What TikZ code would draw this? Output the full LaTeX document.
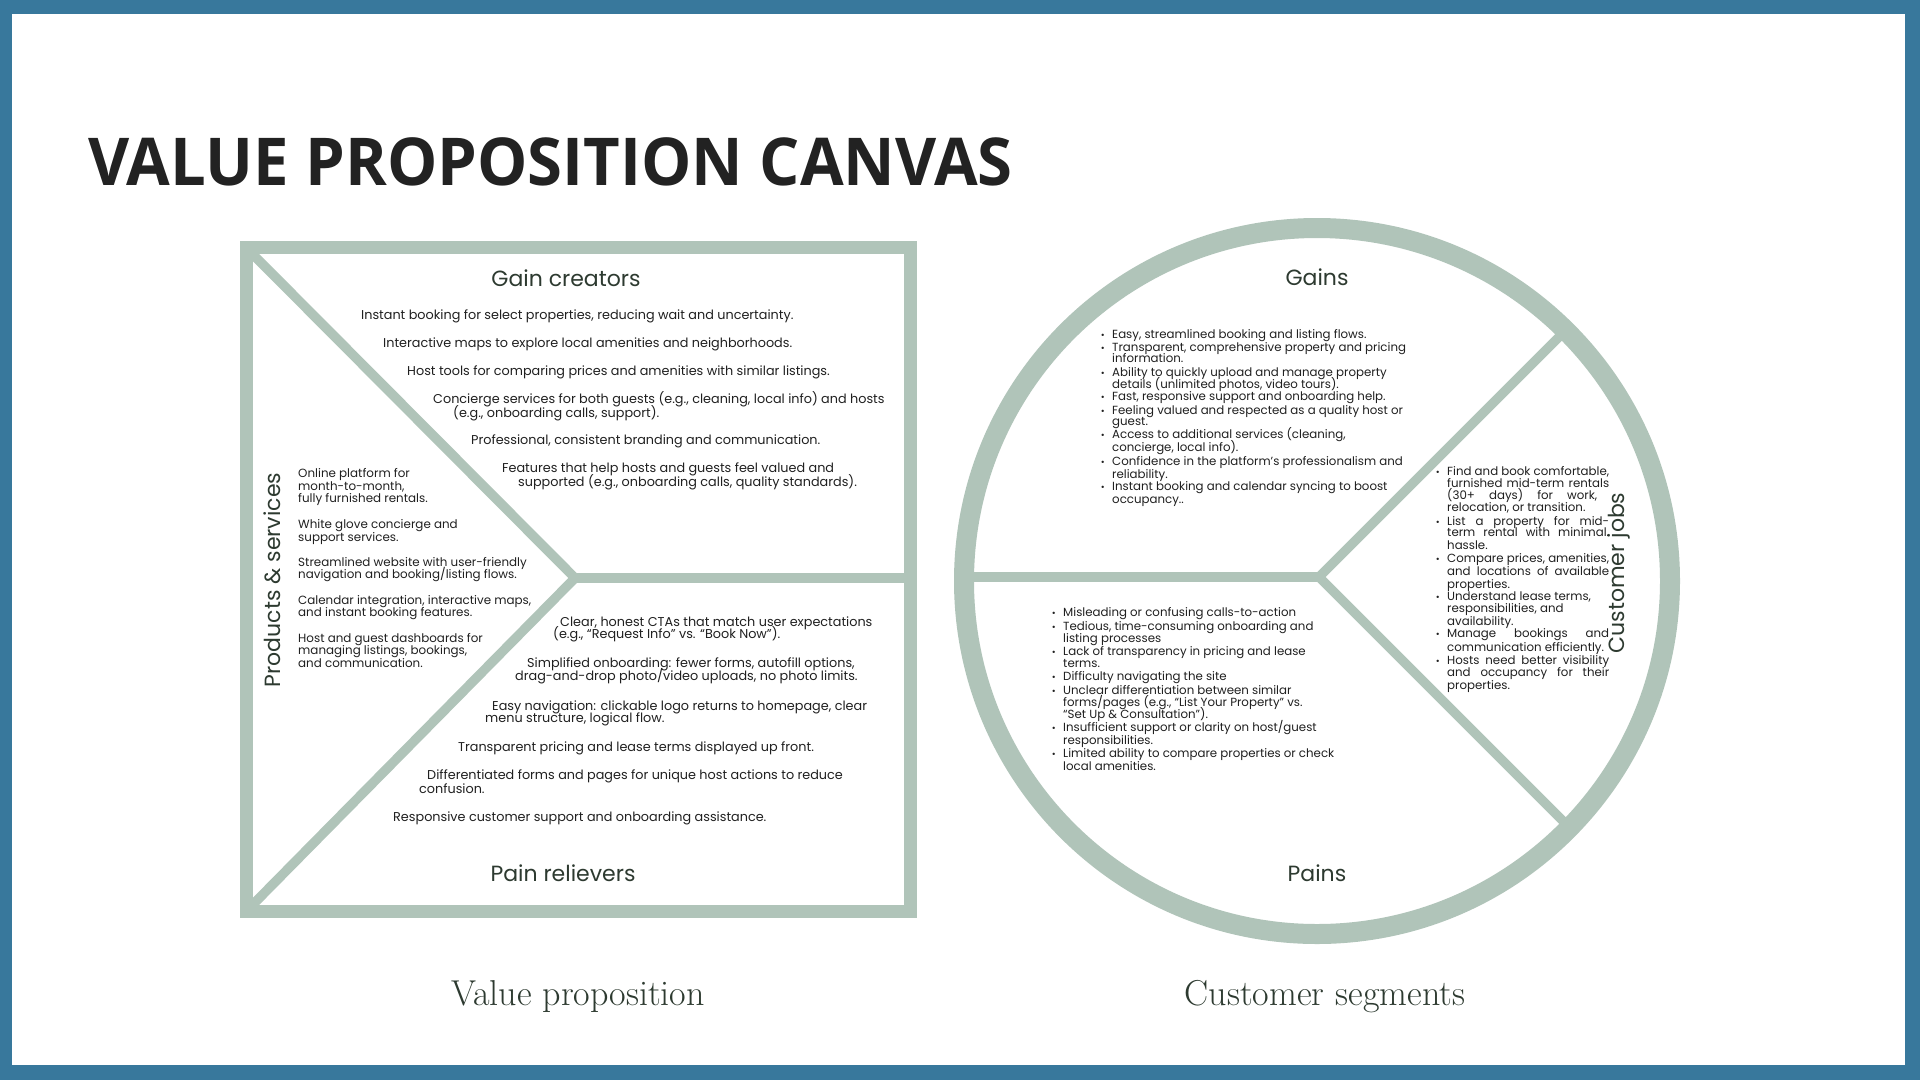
\documentclass[tikz,border=0pt]{standalone}
\usepackage{fontspec}
\usepackage{graphicx}
\newfontfamily\pop{Poppins}
\newfontfamily\titlefont{Open Sans}
\definecolor{frameblue}{RGB}{56,120,156}
\definecolor{sage}{RGB}{176,196,185}
\definecolor{hdrtext}{RGB}{45,58,48}
\definecolor{bodytext}{RGB}{32,32,32}
\definecolor{titlec}{RGB}{34,34,34}
\newcommand{\vpbul}{\llap{\scalebox{0.8}{•}\hspace{7.5pt}}}
\tikzset{
  vpbody/.style={font=\pop\fontsize{12.8}{14}\selectfont, text=bodytext, inner sep=0pt, anchor=mid west, yshift=-2.5pt},
  psbody/.style={font=\pop\fontsize{11.9}{13}\selectfont, text=bodytext, inner sep=0pt, anchor=mid west, yshift=-2.5pt},
  csbody/.style={font=\pop\fontsize{11.8}{13}\selectfont, text=bodytext, inner sep=0pt, anchor=mid west, yshift=-1.5pt},
  hdr/.style={font=\pop\fontsize{22}{25}\selectfont, text=hdrtext, inner sep=0pt, anchor=center},
  sageline/.style={draw=sage, line width=9.5pt, line join=miter},
  sageframe/.style={draw=sage, line width=13pt},
  sagering/.style={draw=sage, line width=20pt},
  footlbl/.style={font=\fontsize{36}{40}\selectfont, text=hdrtext, inner sep=0pt, anchor=base}
}
\begin{document}
\begin{tikzpicture}[x=1pt,y=-1pt]
\useasboundingbox (0,0) rectangle (1920,1080);
\fill[frameblue] (0,0) rectangle (1920,1080);
\fill[white] (12,14) rectangle (1905,1065);

% title
\node[anchor=base west, inner sep=0pt, text=titlec, font=\titlefont\bfseries\fontsize{66}{70}\selectfont] (title) at (88,185) {\scalebox{0.96}[1]{VALUE PROPOSITION CANVAS}};

% ---------- value proposition square ----------
\coordinate (vtl) at (246,247.5);
\coordinate (vbl) at (246,911.5);
\coordinate (vbr) at (910,911.5);
\coordinate (vhub) at (575,578);
\coordinate (vr) at (910,578);
\draw[sageline] (vtl) -- (vhub) -- (vbl);
\draw[sageline] (vhub) -- (vr);
\draw[sageframe] (vtl) rectangle (vbr);

\node[hdr] (gaincr) at (566,278) {Gain creators};
\node[hdr] (painrel) at (563,873) {Pain relievers};
\node[hdr, rotate=90] (prodserv) at (272,580) {Products \& services};

\foreach \x/\y/\t [count=\i] in {
 361/315/{Instant booking for select properties, reducing wait and uncertainty.},
 383/343/{Interactive maps to explore local amenities and neighborhoods.},
 407/371/{Host tools for comparing prices and amenities with similar listings.},
 433/399/{Concierge services for both guests (e.g., cleaning, local info) and hosts},
 453/413/{(e.g., onboarding calls, support).},
 471/440/{Professional, consistent branding and communication.},
 502/468/{Features that help hosts and guests feel valued and},
 518/482/{supported (e.g., onboarding calls, quality standards).}}
 \node[vpbody] (gc\i) at (\x,\y) {\t};

\foreach \y/\t [count=\i] in {
 473/{Online platform for},
 486/{month-to-month,},
 498/{fully furnished rentals.},
 524/{White glove concierge and},
 537/{support services.},
 562/{Streamlined website with user-friendly},
 574/{navigation and booking/listing flows.},
 600/{Calendar integration, interactive maps,},
 612/{and instant booking features.},
 638/{Host and guest dashboards for},
 650/{managing listings, bookings,},
 663/{and communication.}}
 \node[psbody] (ps\i) at (298,\y) {\t};

\foreach \x/\y/\t [count=\i] in {
 560/622/{Clear, honest CTAs that match user expectations},
 553/634/{(e.g., “Request Info” vs. “Book Now”).},
 527/663/{Simplified onboarding: fewer forms, autofill options,},
 515/676/{drag-and-drop photo/video uploads, no photo limits.},
 492/706/{Easy navigation: clickable logo returns to homepage, clear},
 485/718/{menu structure, logical flow.},
 458/747/{Transparent pricing and lease terms displayed up front.},
 427/775/{Differentiated forms and pages for unique host actions to reduce},
 419/789/{confusion.},
 393/817/{Responsive customer support and onboarding assistance.}}
 \node[vpbody] (pr\i) at (\x,\y) {\t};

% ---------- customer segment circle ----------
\coordinate (cc) at (1317,581);
\coordinate (chub) at (1319,577);
\coordinate (cleft) at (964,577);
\coordinate (cur) at (1567,329);
\coordinate (clr) at (1567,825);
\draw[sageline] (cur) -- (chub) -- (clr);
\draw[sageline] (chub) -- (cleft);
\draw[sagering] (cc) circle[radius=353pt];

\node[hdr] (gains) at (1317,277) {Gains};
\node[hdr] (pains) at (1317,873) {Pains};
\node[hdr, rotate=90] (custjobs) at (1619,573) {Customer jobs};

\foreach \y/\b/\t [count=\i] in {
 335/1/{Easy, streamlined booking and listing flows.},
 348/1/{Transparent, comprehensive property and pricing},
 359/0/{information.},
 373/1/{Ability to quickly upload and manage property},
 385/0/{details (unlimited photos, video tours).},
 397/1/{Fast, responsive support and onboarding help.},
 411/1/{Feeling valued and respected as a quality host or},
 422/0/{guest.},
 435/1/{Access to additional services (cleaning,},
 448/0/{concierge, local info).},
 462/1/{Confidence in the platform’s professionalism and},
 475/0/{reliability.},
 487/1/{Instant booking and calendar syncing to boost},
 500/0/{occupancy..}}
 \node[csbody] (ga\i) at (1112,\y) {\ifnum\b=1 \vpbul\fi\t};

\foreach \y/\b/\t [count=\i] in {
 613/1/{Misleading or confusing calls-to-action},
 627/1/{Tedious, time-consuming onboarding and},
 639/0/{listing processes},
 652/1/{Lack of transparency in pricing and lease},
 664/0/{terms.},
 677/1/{Difficulty navigating the site},
 691/1/{Unclear differentiation between similar},
 703/0/{forms/pages (e.g., “List Your Property” vs.},
 715/0/{“Set Up \& Consultation”).},
 728/1/{Insufficient support or clarity on host/guest},
 741/0/{responsibilities.},
 754/1/{Limited ability to compare properties or check},
 767/0/{local amenities.}}
 \node[csbody] (pa\i) at (1063,\y) {\ifnum\b=1 \vpbul\fi\t};

\foreach \y/\b/\w/\t [count=\i] in {
 472/1/162/{Find and book comfortable,},
 484/0/162/{furnished mid-term rentals},
 496/0/150/{(30+ days) for work,},
 508/0/0/{relocation, or transition.},
 522/1/162/{List a property for mid-},
 533/0/162/{term rental with minimal.},
 546/0/0/{hassle.},
 559/1/0/{Compare prices, amenities,},
 572/0/162/{and locations of available},
 585/0/0/{properties.},
 597/1/0/{Understand lease terms,},
 609/0/0/{responsibilities, and},
 622/0/0/{availability.},
 634/1/162/{Manage bookings and},
 648/0/0/{communication efficiently.},
 661/1/162/{Hosts need better visibility},
 673/0/162/{and occupancy for their},
 686/0/0/{properties.}}
 \node[csbody] (cj\i) at (1447,\y) {\ifnum\b=1 \vpbul\fi\ifnum\w>0 \makebox[\w pt][s]{\t}\else\t\fi};

% footer labels
\node[footlbl] (vplabel) at (578,1005) {Value proposition};
\node[footlbl] (cslabel) at (1325,1005) {Customer segments};
\end{tikzpicture}
\end{document}
